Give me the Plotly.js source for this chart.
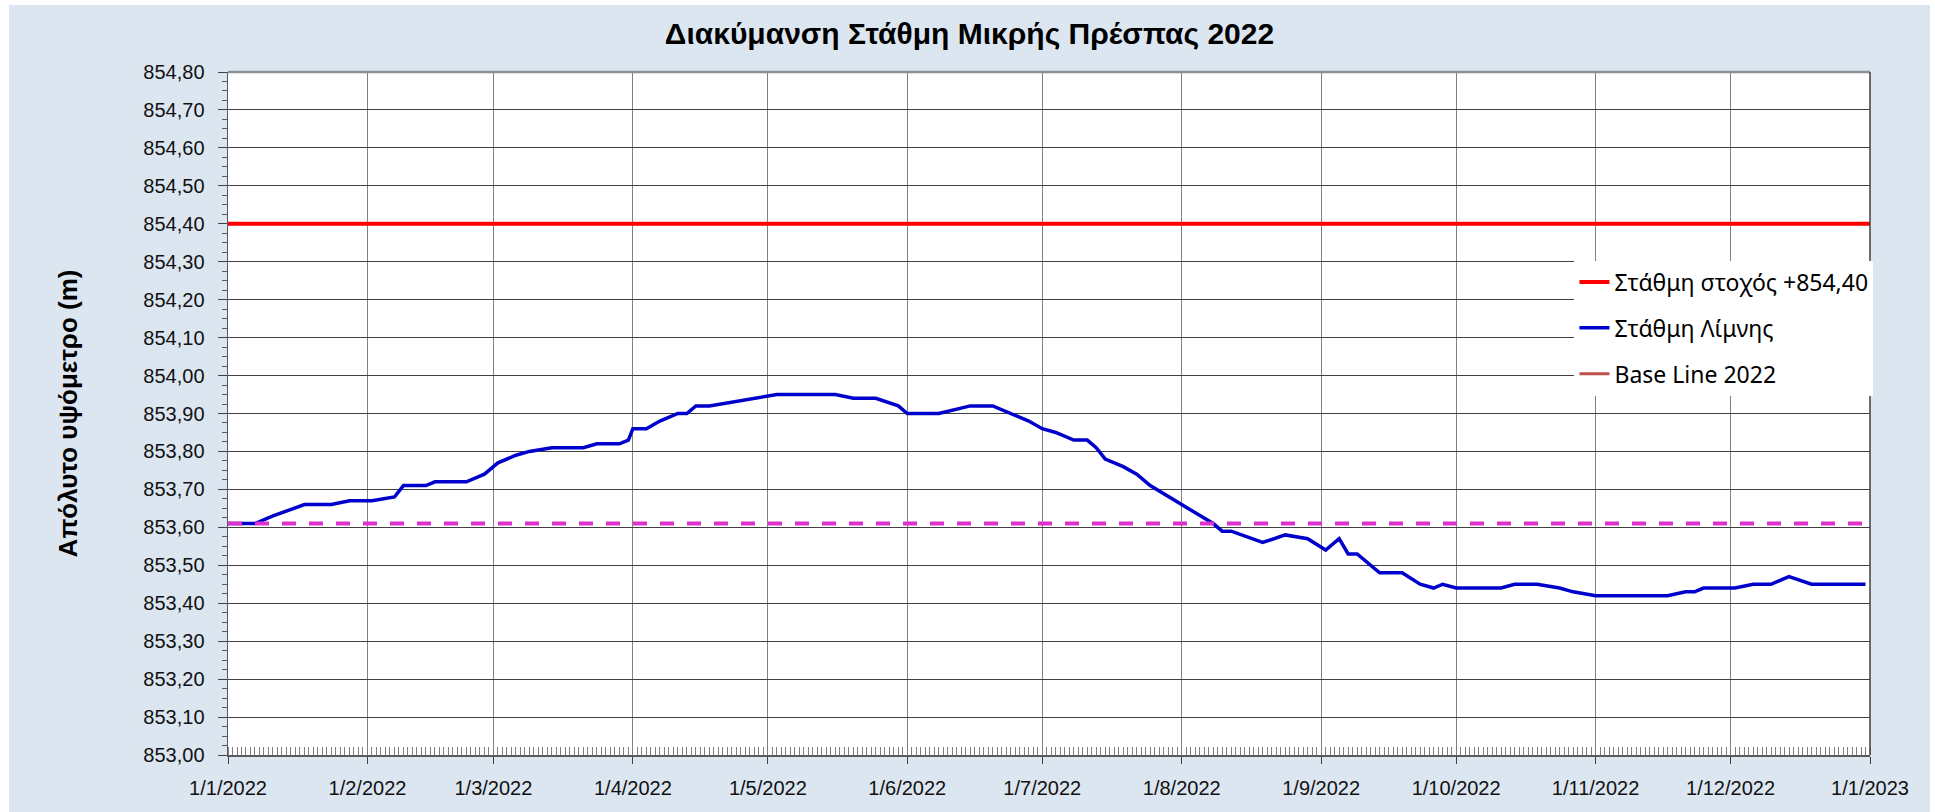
<!DOCTYPE html>
<html>
<head>
<meta charset="utf-8">
<script src="https://cdn.plot.ly/plotly-3.0.1.min.js"></script>
<style>
  body { margin: 0; background: #ffffff; }
  #chart { position: absolute; left: 9px; top: 5px; width: 1921px; height: 807px; }
</style>
</head>
<body>
<div id="chart"></div>
<script>
// level of the lake
const levelDates = [
  '2022-01-01', '2022-01-07', '2022-01-11', '2022-01-18', '2022-01-24', '2022-01-28',
  '2022-02-02', '2022-02-07', '2022-02-09', '2022-02-14', '2022-02-16', '2022-02-23', '2022-02-27',
  '2022-03-02', '2022-03-06', '2022-03-09', '2022-03-14', '2022-03-21', '2022-03-24', '2022-03-29', '2022-03-31',
  '2022-04-01', '2022-04-04', '2022-04-07', '2022-04-11', '2022-04-13', '2022-04-15', '2022-04-18',
  '2022-05-03', '2022-05-16', '2022-05-20', '2022-05-25', '2022-05-30',
  '2022-06-01', '2022-06-08', '2022-06-15', '2022-06-20', '2022-06-24', '2022-06-28',
  '2022-07-01', '2022-07-04', '2022-07-08', '2022-07-11', '2022-07-13', '2022-07-15', '2022-07-19', '2022-07-22', '2022-07-25',
  '2022-08-01', '2022-08-08', '2022-08-10', '2022-08-12', '2022-08-19', '2022-08-24', '2022-08-29',
  '2022-09-02', '2022-09-05', '2022-09-07', '2022-09-09', '2022-09-14', '2022-09-19', '2022-09-23', '2022-09-26', '2022-09-28',
  '2022-10-01', '2022-10-11', '2022-10-14', '2022-10-19', '2022-10-24', '2022-10-27',
  '2022-11-01', '2022-11-17', '2022-11-21', '2022-11-23', '2022-11-25',
  '2022-12-02', '2022-12-06', '2022-12-10', '2022-12-12', '2022-12-14', '2022-12-19', '2022-12-31',
];
const levelValues = [
  853.61, 853.61, 853.63, 853.66, 853.66, 853.67,
  853.67, 853.68, 853.71, 853.71, 853.72, 853.72, 853.74,
  853.77, 853.79, 853.80, 853.81, 853.81, 853.82, 853.82, 853.83,
  853.86, 853.86, 853.88, 853.90, 853.90, 853.92, 853.92,
  853.95, 853.95, 853.94, 853.94, 853.92,
  853.90, 853.90, 853.92, 853.92, 853.90, 853.88,
  853.86, 853.85, 853.83, 853.83, 853.81, 853.78, 853.76, 853.74, 853.71,
  853.66, 853.61, 853.59, 853.59, 853.56, 853.58, 853.57,
  853.54, 853.57, 853.53, 853.53, 853.48, 853.48, 853.45, 853.44, 853.45,
  853.44, 853.44, 853.45, 853.45, 853.44, 853.43,
  853.42, 853.42, 853.43, 853.43, 853.44,
  853.44, 853.45, 853.45, 853.46, 853.47, 853.45, 853.45,
];

const spanDates = ['2022-01-01', '2023-01-01'];
const targetLevel = [854.40, 854.40];
const baseLevel = [853.61, 853.61];

const names = {
  target: 'Στάθμη στοχός +854,40',
  level: 'Στάθμη Λίμνης',
  base: 'Base Line 2022',
};

const tickFont = { family: 'Liberation Sans, Arial, sans-serif', size: 20, color: '#111111' };

const traces = [
  {
    x: spanDates, y: targetLevel, name: names.target, legendgroup: 'a',
    mode: 'lines', line: { color: '#ff0000', width: 4 },
  },
  {
    x: levelDates, y: levelValues, name: names.level, legendgroup: 'b',
    mode: 'lines', line: { color: '#0000cc', width: 3.5 },
  },
  {
    x: spanDates, y: baseLevel, name: names.base, showlegend: false,
    mode: 'lines', line: { color: '#dd33cc', width: 4, dash: '14px,13px' },
  },
  // legend entry only: the swatch colour differs from the drawn dashed line
  {
    x: [null], y: [null], name: names.base, legendgroup: 'c',
    mode: 'lines', line: { color: '#c0504d', width: 3 },
  },
];

const layout = {
  width: 1921,
  height: 807,
  paper_bgcolor: '#dce6f1',
  plot_bgcolor: '#ffffff',
  separators: ', ',
  margin: { l: 219, r: 60, t: 67, b: 57 },
  showlegend: true,
  title: {
    text: 'Διακύμανση Στάθμη Μικρής Πρέσπας 2022',
    font: { family: 'Liberation Sans, Arial, sans-serif', size: 30, weight: 'bold', color: '#000000' },
    x: 0.5, xanchor: 'center', y: 0.965, yanchor: 'middle',
  },
  xaxis: {
    type: 'date',
    range: spanDates,
    tick0: '2022-01-01',
    dtick: 'M1',
    tickformat: '%-d/%-m/%Y',
    tickfont: tickFont,
    ticks: 'outside', ticklen: 7, tickcolor: '#404040',
    ticklabelstandoff: 7,
    showgrid: true, gridcolor: '#808080', gridwidth: 1,
    showline: true, linecolor: '#595959', linewidth: 1.5,
    zeroline: false,
    minor: { dtick: 86400000, ticks: 'inside', ticklen: 8, tickcolor: '#7f7f7f', showgrid: false },
  },
  yaxis: {
    range: [853, 854.8],
    tick0: 853,
    dtick: 0.1,
    tickformat: '.2f',
    tickfont: tickFont,
    ticks: 'outside', ticklen: 9, tickcolor: '#404040',
    ticklabelstandoff: 9,
    showgrid: true, gridcolor: '#404040', gridwidth: 1,
    showline: true, linecolor: '#595959', linewidth: 1.5,
    zeroline: false,
    minor: { dtick: 0.025, ticks: 'outside', ticklen: 5, tickcolor: '#595959', showgrid: false },
    automargin: true,
    title: {
      text: 'Απόλυτο υψόμετρο (m)',
      font: { family: 'Liberation Sans, Arial, sans-serif', size: 26, weight: 'bold', color: '#000000' },
      standoff: 58,
    },
  },
  legend: {
    x: 0.82, xanchor: 'left',
    y: 0.724, yanchor: 'top',
    bgcolor: '#ffffff',
    borderwidth: 0,
    tracegroupgap: 13,
    font: { family: 'Noto Sans, Open Sans, sans-serif', size: 23, color: '#000000' },
  },
  shapes: [
    { type: 'line', xref: 'paper', yref: 'paper', x0: 0, x1: 1, y0: 1, y1: 1, line: { color: '#8c9099', width: 2.5 } },
    { type: 'line', xref: 'paper', yref: 'paper', x0: 1, x1: 1, y0: 0, y1: 1, line: { color: '#404040', width: 1.5 } },
  ],
  hovermode: false,
};

Plotly.newPlot('chart', traces, layout, { staticPlot: true, displayModeBar: false });
</script>
</body>
</html>
